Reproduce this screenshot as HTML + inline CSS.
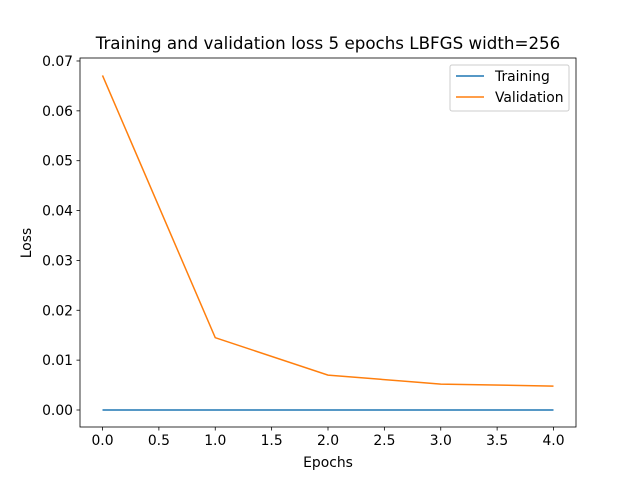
<!DOCTYPE html>
<html><head><meta charset="utf-8"><style>
body{margin:0;background:#fff;}
svg text{font-family:"DejaVu Sans","Liberation Sans",sans-serif;fill:#000;}
</style></head><body>
<svg id="chart" width="640" height="480" xmlns="http://www.w3.org/2000/svg">
<rect width="640" height="480" fill="#fff"/>
<g id="g"></g>
</svg>
<script>
const epochs=[0,1,2,3,4];
const training=[0.00001,0.000005,0.000003,0.000002,0.000002];
const validation=[0.0671,0.0145,0.0070,0.0052,0.0048];
const xTicks=[0,0.5,1,1.5,2,2.5,3,3.5,4];
const xTickLabels=["0.0","0.5","1.0","1.5","2.0","2.5","3.0","3.5","4.0"];
const yTicks=[0,0.01,0.02,0.03,0.04,0.05,0.06,0.07];
const yTickLabels=["0.00","0.01","0.02","0.03","0.04","0.05","0.06","0.07"];
const L=80,R=576,T=58,B=427;
const X=v=>102.5+v*112.75;
const Y=v=>410-v*4986;
const ns="http://www.w3.org/2000/svg";
const g=document.getElementById('g');
function mk(tag,attrs,text){const e=document.createElementNS(ns,tag);for(const k in attrs)e.setAttribute(k,attrs[k]);if(text!==undefined)e.textContent=text;g.appendChild(e);return e;}
xTicks.forEach((v,i)=>{
 const t=mk('line',{x1:X(v),x2:X(v),y1:B,y2:B+3.5,stroke:'#000','stroke-width':0.8});
 
 
 const l=mk('text',{x:X(v),y:B+18,'font-size':13.9,'text-anchor':'middle'},xTickLabels[i]);
 
 
});
yTicks.forEach((v,i)=>{
 const t=mk('line',{x1:L-3.5,x2:L,y1:Y(v),y2:Y(v),stroke:'#000','stroke-width':0.8});
 
 
 const l=mk('text',{x:L-7,y:Y(v)+5,'font-size':13.9,'text-anchor':'end'},yTickLabels[i]);
 
 
});
function line(arr,color,name){
 const p=mk('polyline',{points:arr.map((v,i)=>X(epochs[i])+','+Y(v)).join(' '),fill:'none',stroke:color,'stroke-width':1.5});
 
 
}
line(training,'#1f77b4','training-line');
line(validation,'#ff7f0e','validation-line');
const fr=mk('rect',{x:L,y:T,width:R-L,height:B-T,fill:'none',stroke:'#000','stroke-width':0.8});


const ti=mk('text',{x:328,y:49,'font-size':16.7,'text-anchor':'middle'},'Training and validation loss 5 epochs LBFGS width=256');


const xl=mk('text',{x:328,y:467,'font-size':13.9,'text-anchor':'middle'},'Epochs');


const yl=mk('text',{x:0,y:0,'font-size':13.9,'text-anchor':'middle',transform:'translate(31,243) rotate(-90)'},'Loss');


const lg=mk('rect',{x:450,y:65,width:119,height:46,rx:2,fill:'#fff',stroke:'#ccc','stroke-width':1});


[['Training','#1f77b4',76],['Validation','#ff7f0e',97]].forEach(([n,c,y])=>{
 const s=mk('line',{x1:456,x2:484,y1:y,y2:y,stroke:c,'stroke-width':1.5});
 
 
 const t=mk('text',{x:495,y:y+5,'font-size':13.9},n);
 
 
});
</script>
</body></html>
